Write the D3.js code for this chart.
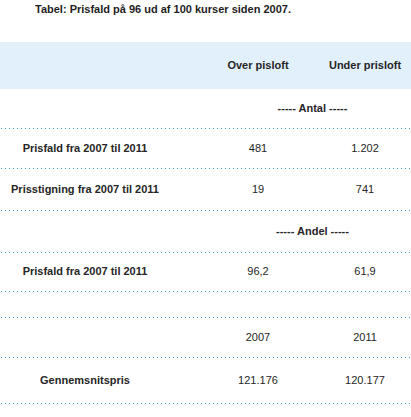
<!DOCTYPE html>
<html>
<head>
<meta charset="utf-8">
<script src="https://cdn.jsdelivr.net/npm/d3@7"></script>
<style>
  body { margin: 0; background: #fff; }
  text { font-family: "Liberation Sans", Arial, sans-serif; font-size: 11px; fill: #262626; }
</style>
</head>
<body>
<script>
var title = "Tabel: Prisfald på 96 ud af 100 kurser siden 2007.";
var columns = ["Over pisloft", "Under prisloft"];
var sections = ["----- Antal -----", "----- Andel -----"];
var antalLabels = ["Prisfald fra 2007 til 2011", "Prisstigning fra 2007 til 2011"];
var antalOver = [481, 19];
var antalUnder = [1202, 741];
var andelLabels = ["Prisfald fra 2007 til 2011"];
var andelOver = [96.2];
var andelUnder = [61.9];
var years = ["2007", "2011"];
var avgLabel = "Gennemsnitspris";
var avgPrice = [121176, 120177];

var w = 411, h = 417;
var rowHeights = [47, 39, 40, 42, 42, 39, 26, 40, 46];
var top0 = 42;

var dk = d3.formatLocale({decimal: ",", thousands: ".", grouping: [3], currency: ["", " kr."]});
var fmtInt = dk.format(",d");
var fmtDec = dk.format(",.1f");

// rows of the table
var rows = [];
rows.push({type: "header", cells: columns});
rows.push({type: "section", text: sections[0]});
antalLabels.forEach(function(l, i) {
  rows.push({type: "data", label: l, cells: [fmtInt(antalOver[i]), fmtInt(antalUnder[i])]});
});
rows.push({type: "section", text: sections[1]});
andelLabels.forEach(function(l, i) {
  rows.push({type: "data", label: l, cells: [fmtDec(andelOver[i]), fmtDec(andelUnder[i])]});
});
rows.push({type: "empty"});
rows.push({type: "data", label: "", cells: years});
rows.push({type: "data", label: avgLabel, cells: avgPrice.map(fmtInt)});

var y = top0;
rows.forEach(function(r, i) {
  r.y0 = y;
  r.h = rowHeights[i];
  y += r.h;
});

var x = d3.scaleOrdinal()
  .domain(["label", "c0", "c1"])
  .range([85, 258, 365]);

var svg = d3.select("body")
  .append("svg")
  .attr("width", w)
  .attr("height", h);

svg.append("text")
  .attr("x", 35)
  .attr("y", 12.5)
  .attr("font-weight", "bold")
  .style("fill", "#1e1e1e")
  .text(title);

var g = svg.selectAll("g.row")
  .data(rows)
  .enter()
  .append("g")
  .attr("class", "row")
  .attr("transform", function(d) { return "translate(0," + d.y0 + ")"; });

g.filter(function(d) { return d.type == "header"; })
  .append("rect")
  .attr("width", w)
  .attr("height", function(d) { return d.h; })
  .attr("fill", "#e2f0fb");

// dotted row borders, one little square every 4px
var dotX = d3.range(1, w, 4);
g.filter(function(d) { return d.type != "header"; })
  .selectAll("rect.dot")
  .data(function(d) { return dotX.map(function(dx) { return {x: dx, y: d.h}; }); })
  .enter()
  .append("rect")
  .attr("class", "dot")
  .attr("x", function(d) { return d.x; })
  .attr("y", function(d) { return d.y; })
  .attr("width", 1)
  .attr("height", 1)
  .attr("fill", "#2b9ee0");

g.filter(function(d) { return d.type == "section"; })
  .append("text")
  .attr("x", (x("c0") + x("c1")) / 2 + 1)
  .attr("y", function(d) { return d.h / 2; })
  .attr("dy", "0.35em")
  .attr("text-anchor", "middle")
  .attr("font-weight", "bold")
  .text(function(d) { return d.text; });

g.filter(function(d) { return d.type == "data"; })
  .append("text")
  .attr("x", x("label"))
  .attr("y", function(d) { return d.h / 2; })
  .attr("dy", "0.35em")
  .attr("text-anchor", "middle")
  .attr("font-weight", "bold")
  .text(function(d) { return d.label; });

g.filter(function(d) { return d.type == "data" || d.type == "header"; })
  .selectAll("text.cell")
  .data(function(d) {
    return d.cells.map(function(c, i) { return {text: c, col: "c" + i, h: d.h, bold: d.type == "header"}; });
  })
  .enter()
  .append("text")
  .attr("class", "cell")
  .attr("x", function(d) { return x(d.col); })
  .attr("y", function(d) { return d.h / 2; })
  .attr("dy", "0.35em")
  .attr("text-anchor", "middle")
  .attr("font-weight", function(d) { return d.bold ? "bold" : "normal"; })
  .text(function(d) { return d.text; });
</script>
</body>
</html>
